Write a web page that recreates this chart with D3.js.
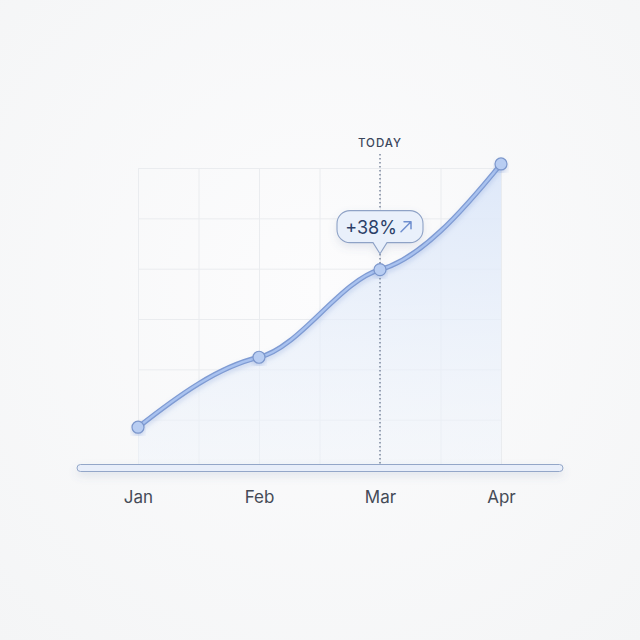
<!DOCTYPE html>
<html lang="en">
<head>
  <meta charset="UTF-8">
  <title>Growth to today</title>
  <style>
    * { margin: 0; }
    body {
      background: #f7f8f9;
      font-family: Inter, "Noto Sans", Arial, sans-serif;
    }
    #chart svg { display: block; }
    .month text {
      font-size: 17px;
      fill: #454b57;
    }
  </style>
</head>
<body>
  <div id="chart"></div>
  <script src="https://cdnjs.cloudflare.com/ajax/libs/d3/7.8.5/d3.min.js"></script>
  <script>
    const months = ['Jan', 'Feb', 'Mar', 'Apr'];
    const values = [8.5, 22.4, 39.8, 60.8];
    const gridTicks = [10, 20, 30, 40, 50, 60];
    const todayMonth = 'Mar';
    const todayLabel = 'TODAY';
    const changeLabel = '+38%';

    const W = 640, H = 640;
    const base = 467;

    const svg = d3.select('#chart')
      .append('svg')
      .attr('width', W)
      .attr('height', H);

    const x = d3.scalePoint().domain(months).range([138, 501]);
    const xi = d3.scaleLinear().domain([0, months.length - 1]).range([138, 501]);
    const y = d3.scaleLinear().domain([0, 60]).range([470, 168]);

    const defs = svg.append('defs');

    const bg = defs.append('radialGradient').attr('id', 'bg')
      .attr('cx', '50%').attr('cy', '45%').attr('r', '75%');
    bg.append('stop').attr('offset', '0%').attr('stop-color', '#fcfcfd');
    bg.append('stop').attr('offset', '100%').attr('stop-color', '#f4f5f6');

    const fillGrad = defs.append('linearGradient').attr('id', 'fillGrad')
      .attr('x1', 0).attr('y1', 0).attr('x2', 0).attr('y2', 1);
    fillGrad.append('stop').attr('offset', '0%').attr('stop-color', '#dce7f9').attr('stop-opacity', 0.95);
    fillGrad.append('stop').attr('offset', '100%').attr('stop-color', '#eff4fb').attr('stop-opacity', 0.45);

    const lineShadow = defs.append('filter').attr('id', 'lineShadow')
      .attr('x', '-10%').attr('y', '-10%').attr('width', '120%').attr('height', '130%');
    lineShadow.append('feDropShadow')
      .attr('dx', 0).attr('dy', 3).attr('stdDeviation', 2.5)
      .attr('flood-color', '#6f8fd0').attr('flood-opacity', 0.28);

    const softShadow = defs.append('filter').attr('id', 'softShadow')
      .attr('x', '-10%').attr('y', '-100%').attr('width', '120%').attr('height', '400%');
    softShadow.append('feDropShadow')
      .attr('dx', 0).attr('dy', 4).attr('stdDeviation', 4)
      .attr('flood-color', '#5a6e96').attr('flood-opacity', 0.15);

    svg.append('rect').attr('width', W).attr('height', H).attr('fill', 'url(#bg)');

    // grid (half-month columns, value rows)
    const colTicks = d3.range(0, months.length - 0.5, 0.5);
    svg.append('g')
      .attr('transform', `translate(0,${base})`)
      .call(d3.axisBottom(xi).tickValues(colTicks).tickSize(-(base - y(60))).tickFormat(''))
      .call(g => g.select('.domain').remove())
      .call(g => g.selectAll('line').attr('stroke', '#eaecef'));
    svg.append('g')
      .attr('transform', `translate(${xi(0)},0)`)
      .call(d3.axisLeft(y).tickValues(gridTicks).tickSize(-(xi(3) - xi(0))).tickFormat(''))
      .call(g => g.select('.domain').remove())
      .call(g => g.selectAll('line').attr('stroke', '#eaecef'));

    // soft hermite curve: flattened tangents at the inner points
    function softCurve(context) {
      let xs, ys;
      return {
        areaStart() {}, areaEnd() {},
        lineStart() { xs = []; ys = []; },
        point(px, py) { xs.push(+px); ys.push(+py); },
        lineEnd() {
          const n = xs.length;
          if (!n) return;
          context.moveTo(xs[0], ys[0]);
          if (n === 1) return;
          const s = [];
          for (let i = 0; i < n - 1; i++) s.push((ys[i + 1] - ys[i]) / (xs[i + 1] - xs[i]));
          const t = new Array(n);
          for (let i = 1; i < n - 1; i++) t[i] = 0.35 * (s[i - 1] + s[i]) / 2;
          t[0] = n > 2 ? 1.6 * s[0] - 0.6 * t[1] : s[0];
          t[n - 1] = n > 2 ? 1.6 * s[n - 2] - 0.6 * t[n - 2] : s[0];
          for (let i = 0; i < n - 1; i++) {
            const dx = (xs[i + 1] - xs[i]) / 3;
            context.bezierCurveTo(
              xs[i] + dx, ys[i] + t[i] * dx,
              xs[i + 1] - dx, ys[i + 1] - t[i + 1] * dx,
              xs[i + 1], ys[i + 1]);
          }
        }
      };
    }

    const pts = months.map((m, i) => ({ m, v: values[i] }));
    const line = d3.line().x(d => x(d.m)).y(d => y(d.v)).curve(softCurve);
    const linePath = line(pts);

    // area under the curve
    svg.append('path')
      .attr('d', linePath + `L${x(months[months.length - 1])},${base}L${x(months[0])},${base}Z`)
      .attr('fill', 'url(#fillGrad)');

    // today marker
    const tx = x(todayMonth);
    svg.append('line')
      .attr('x1', tx).attr('x2', tx)
      .attr('y1', 154).attr('y2', base)
      .attr('stroke', '#6a7790')
      .attr('stroke-width', 1.3)
      .attr('stroke-dasharray', '1.4 2.6');
    svg.append('text')
      .attr('x', tx).attr('y', 147)
      .attr('text-anchor', 'middle')
      .attr('font-size', 11.5)
      .attr('font-weight', 500)
      .attr('letter-spacing', 1)
      .attr('fill', '#3b475c')
      .text(todayLabel);

    // baseline bar
    svg.append('rect')
      .attr('x', 77).attr('y', base - 2.5)
      .attr('width', 563 - 77).attr('height', 7)
      .attr('rx', 3.5)
      .attr('fill', '#e8eefa')
      .attr('stroke', '#93a6c8')
      .attr('stroke-width', 1)
      .attr('filter', 'url(#softShadow)');

    // line
    svg.append('path')
      .attr('d', linePath)
      .attr('fill', 'none')
      .attr('stroke', '#7f9bd3')
      .attr('stroke-width', 5)
      .attr('stroke-linecap', 'round')
      .attr('filter', 'url(#lineShadow)');
    svg.append('path')
      .attr('d', linePath)
      .attr('fill', 'none')
      .attr('stroke', '#a9c2ef')
      .attr('stroke-width', 2.4)
      .attr('stroke-linecap', 'round');

    // points
    svg.append('g')
      .selectAll('circle')
      .data(pts)
      .join('circle')
      .attr('cx', d => x(d.m))
      .attr('cy', d => y(d.v))
      .attr('r', 6)
      .attr('fill', '#b8cdf2')
      .attr('stroke', '#7c97cc')
      .attr('stroke-width', 1.2)
      .attr('filter', 'url(#lineShadow)');

    // month labels
    svg.append('g')
      .attr('class', 'month')
      .attr('transform', `translate(0,${base})`)
      .call(d3.axisBottom(x).tickSize(0))
      .call(g => g.select('.domain').remove())
      .call(g => g.selectAll('text')
        .attr('y', 36).attr('dy', 0)
        .attr('font-family', 'Inter, "Noto Sans", Arial, sans-serif'));

    // callout bubble
    const todayVal = values[months.indexOf(todayMonth)];
    const py = y(todayVal);
    const bw = 86, bh = 32, r = 13;
    const bx = tx - bw / 2, by = py - 59;
    const tipY = py - 16, ph = 7;
    const bubble = d3.path();
    bubble.moveTo(bx + r, by);
    bubble.lineTo(bx + bw - r, by);
    bubble.arcTo(bx + bw, by, bx + bw, by + r, r);
    bubble.lineTo(bx + bw, by + bh - r);
    bubble.arcTo(bx + bw, by + bh, bx + bw - r, by + bh, r);
    bubble.lineTo(tx + ph, by + bh);
    bubble.lineTo(tx, tipY);
    bubble.lineTo(tx - ph, by + bh);
    bubble.lineTo(bx + r, by + bh);
    bubble.arcTo(bx, by + bh, bx, by + bh - r, r);
    bubble.lineTo(bx, by + r);
    bubble.arcTo(bx, by, bx + r, by, r);
    bubble.closePath();
    svg.append('path')
      .attr('d', bubble.toString())
      .attr('fill', '#e9f0fb')
      .attr('stroke', '#8ea2c6')
      .attr('stroke-width', 1.1)
      .attr('filter', 'url(#softShadow)');
    svg.append('text')
      .attr('x', tx - 9).attr('y', by + 23)
      .attr('text-anchor', 'middle')
      .attr('font-size', 18)
      .attr('fill', '#2c3f68')
      .text(changeLabel);
    const ax = tx + 21, ay = by + 21;
    svg.append('path')
      .attr('d', `M${ax},${ay}L${ax + 10},${ay - 10}M${ax + 3},${ay - 10}L${ax + 10},${ay - 10}L${ax + 10},${ay - 3}`)
      .attr('fill', 'none')
      .attr('stroke', '#6f8fcf')
      .attr('stroke-width', 1.5)
      .attr('stroke-linecap', 'round')
      .attr('stroke-linejoin', 'round');
  </script>
</body>
</html>
